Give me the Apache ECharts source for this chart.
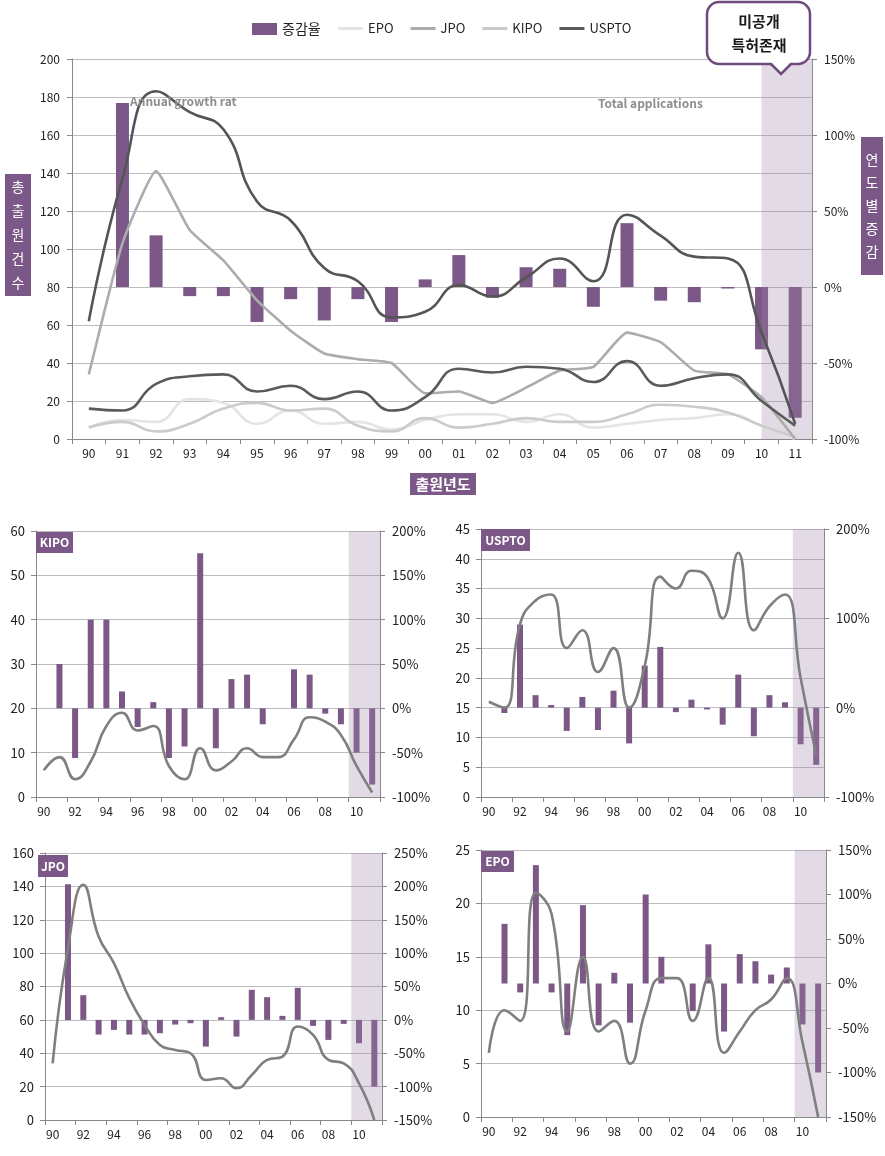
<!DOCTYPE html>
<html>
<head>
<meta charset="utf-8">
<script src="https://cdn.jsdelivr.net/npm/echarts@6/dist/echarts.min.js"></script>
<style>
html,body{margin:0;padding:0;background:#ffffff;}
#c{width:885px;height:1156px;}
</style>
</head>
<body>
<div id="c"></div>
<script>
// ---------------- data ----------------
const years = ['90','91','92','93','94','95','96','97','98','99','00','01','02','03','04','05','06','07','08','09','10','11'];

const totalApps   = [62,137,183,172,163,125,115,90,83,64,67,81,75,85,95,83,118,107,96,95,56,8];
const totalGrowth = [null,121,34,-6,-6,-23,-8,-22,-8,-23,5,21,-7,13,12,-13,42,-9,-10,-1,-41,-86];

const epoApps   = [6,10,9,21,19,8,15,8,9,5,10,13,13,9,13,6,8,10,11,13,7,0];
const jpoApps   = [34,103,141,110,94,73,57,45,42,40,24,25,19,27,36,38,56,51,36,34,22,0];
const kipoApps  = [6,9,4,8,16,19,15,16,7,4,11,6,8,11,9,9,13,18,17,14,7,1];
const usptoApps = [16,15,29,33,34,25,28,21,25,15,22,37,35,38,37,30,41,28,32,34,20,7];

const epoGrowth   = [null,67,-10,133,-10,-58,88,-47,12,-44,100,30,0,-31,44,-54,33,25,10,18,-46,-100];
const jpoGrowth   = [null,203,37,-22,-15,-22,-22,-20,-7,-5,-40,4,-25,45,34,6,48,-9,-30,-6,-35,-100];
const kipoGrowth  = [null,50,-56,100,100,19,-21,7,-56,-43,175,-45,33,38,-18,0,44,38,-6,-18,-50,-86];
const usptoGrowth = [null,-6,93,14,3,-26,12,-25,19,-40,47,68,-5,9,-2,-19,37,-32,14,6,-41,-64];

const barLegendName = '증감율';
const lineLegendNames = ['EPO','JPO','KIPO','USPTO'];
const unpublishedFrom = '10';

// ---------------- styles ----------------
const PURPLE = '#7b5887';
const FONT = "'Noto Sans CJK KR','Noto Sans',sans-serif";
const AXIS_COLOR = '#888888';
const GRID_COLOR = '#bdbdbd';
const LABEL_COLOR = '#222222';
const SUB_LINE = '#7f7f7f';
const SHADE = 'rgba(160,135,170,0.3)';

const chart = echarts.init(document.getElementById('c'), null, {renderer: 'canvas'});

function catAxis(gridIndex, every, margin, fontSize) {
  return {
    type: 'category', gridIndex: gridIndex, data: years, boundaryGap: true,
    axisLine: {show: true, lineStyle: {color: AXIS_COLOR, width: 1}},
    axisTick: {show: true, interval: every, length: 5, lineStyle: {color: AXIS_COLOR}},
    axisLabel: {interval: every, margin: margin, fontSize: fontSize, color: LABEL_COLOR, fontFamily: FONT},
    splitLine: {show: false}
  };
}
function valAxis(gridIndex, pos, min, max, interval, showSplit, pct, fontSize, margin) {
  return {
    type: 'value', gridIndex: gridIndex, position: pos, min: min, max: max, interval: interval,
    axisLine: {show: true, lineStyle: {color: AXIS_COLOR, width: 1}},
    axisTick: {show: true, length: 5, lineStyle: {color: AXIS_COLOR}},
    axisLabel: {fontSize: fontSize, color: LABEL_COLOR, fontFamily: FONT, margin: margin,
      formatter: pct ? '{value}%' : '{value}'},
    splitLine: {show: showSplit, lineStyle: {color: GRID_COLOR, width: 1}}
  };
}

function lineSeries(name, data, xi, yi, color, smooth, z) {
  return {
    name: name, type: 'line', xAxisIndex: xi, yAxisIndex: yi, data: data,
    smooth: smooth, symbol: 'none', showSymbol: false,
    lineStyle: {color: color, width: 2.6}, itemStyle: {color: color}, z: z || 5
  };
}
function barSeries(name, data, xi, yi, width) {
  return {
    name: name, type: 'bar', xAxisIndex: xi, yAxisIndex: yi, data: data,
    barWidth: width, itemStyle: {color: PURPLE}, z: 2
  };
}

const option = {
  animation: false,
  backgroundColor: '#ffffff',
  textStyle: {fontFamily: FONT},
  legend: [
    {
      left: 247, top: 17, itemWidth: 25, itemHeight: 12, itemGap: 10,
      icon: 'rect',
      textStyle: {fontSize: 14, color: LABEL_COLOR, fontFamily: FONT},
      data: [barLegendName]
    },
    {
      left: 333, top: 17, itemWidth: 25, itemHeight: 3, itemGap: 17,
      icon: 'rect',
      textStyle: {fontSize: 13, color: LABEL_COLOR, fontFamily: FONT},
      data: lineLegendNames
    }
  ],
  grid: [
    {left: 72, right: 73, top: 59, bottom: 717},
    {left: 36, right: 505, top: 531, bottom: 359},
    {left: 481, right: 61, top: 529, bottom: 359},
    {left: 45, right: 503, top: 853, bottom: 36},
    {left: 481, right: 59, top: 850, bottom: 39}
  ],
  xAxis: [
    catAxis(0, 0, 8, 12),
    catAxis(1, 1, 8, 12),
    catAxis(2, 1, 8, 12),
    catAxis(3, 1, 8, 12),
    catAxis(4, 1, 8, 12)
  ],
  yAxis: [
    valAxis(0, 'left', 0, 200, 20, true, false, 12, 12),
    valAxis(0, 'right', -100, 150, 50, false, true, 12, 12),
    valAxis(1, 'left', 0, 60, 10, true, false, 13, 11),
    valAxis(1, 'right', -100, 200, 50, false, true, 13, 12),
    valAxis(2, 'left', 0, 45, 5, true, false, 13, 11),
    valAxis(2, 'right', -100, 200, 100, false, true, 13, 12),
    valAxis(3, 'left', 0, 160, 20, true, false, 13, 11),
    valAxis(3, 'right', -150, 250, 50, false, true, 13, 12),
    valAxis(4, 'left', 0, 25, 5, true, false, 13, 11),
    valAxis(4, 'right', -150, 150, 50, false, true, 13, 12)
  ],
  series: [
    barSeries(barLegendName, totalGrowth, 0, 1, 13),
    lineSeries('EPO', epoApps, 0, 0, '#e4e4e4', 0.5, 5),
    lineSeries('KIPO', kipoApps, 0, 0, '#cbcbcb', 0.5, 5),
    lineSeries('JPO', jpoApps, 0, 0, '#acacac', 0.15, 5),
    lineSeries('USPTO', usptoApps, 0, 0, '#5a5a5a', 0.5, 5),
    lineSeries('합계', totalApps, 0, 0, '#555555', 0.5, 5),

    barSeries('KIPO 증감율', kipoGrowth, 1, 3, 6),
    lineSeries('KIPO 출원', kipoApps, 1, 2, SUB_LINE, 0.5, 5),
    barSeries('USPTO 증감율', usptoGrowth, 2, 5, 6),
    lineSeries('USPTO 출원', usptoApps, 2, 4, SUB_LINE, 0.5, 5),
    barSeries('JPO 증감율', jpoGrowth, 3, 7, 6),
    lineSeries('JPO 출원', jpoApps, 3, 6, SUB_LINE, 0.5, 5),
    barSeries('EPO 증감율', epoGrowth, 4, 9, 6),
    lineSeries('EPO 출원', epoApps, 4, 8, SUB_LINE, 0.5, 5)
  ]
};
chart.setOption(option);

// ---------- shaded "unpublished" regions, computed from the axes ----------
function shade(xi, yi, yMin, yMax, fromCenter) {
  const i10 = years.indexOf(unpublishedFrom);
  const c10 = chart.convertToPixel({xAxisIndex: xi}, i10);
  const c11 = chart.convertToPixel({xAxisIndex: xi}, i10 + 1);
  const band = c11 - c10;
  const x0 = fromCenter ? c10 : c10 - band / 2;
  const x1 = c11 + band / 2;
  const yTop = chart.convertToPixel({yAxisIndex: yi}, yMax);
  const yBot = chart.convertToPixel({yAxisIndex: yi}, yMin);
  return {type: 'rect', z: 3, silent: true,
    shape: {x: x0, y: yTop, width: x1 - x0, height: yBot - yTop},
    style: {fill: SHADE}};
}

function titleBox(x, y, w, h, text, fs, lh, bold) {
  return [
    {type: 'rect', z: 10, shape: {x: x, y: y, width: w, height: h}, style: {fill: PURPLE}},
    {type: 'text', z: 11, x: x + w / 2, y: y + h / 2,
      style: {text: text, fill: '#ffffff', font: (bold ? 'bold ' : '') + fs + 'px ' + FONT,
        align: 'center', verticalAlign: 'middle', lineHeight: lh}}
  ];
}

const g = [];
g.push(shade(0, 0, 0, 200, true));
g.push(shade(1, 2, 0, 60, false));
g.push(shade(2, 4, 0, 45, false));
g.push(shade(3, 6, 0, 160, false));
g.push(shade(4, 8, 0, 25, false));

g.push(...titleBox(5, 174, 26, 122, '총\n출\n원\n건\n수', 14, 24, false));
g.push(...titleBox(861, 137, 22, 138, '연\n도\n별\n증\n감', 14, 23, false));
g.push(...titleBox(410, 473, 66, 22, '출원년도', 15, 18, true));

g.push(...titleBox(36, 532, 37, 21, 'KIPO', 12, 14, true));
g.push(...titleBox(481, 529, 49, 22, 'USPTO', 12, 14, true));
g.push(...titleBox(38, 855, 30, 22, 'JPO', 12, 14, true));
g.push(...titleBox(481, 851, 33, 21, 'EPO', 12, 14, true));

// annotations
g.push({type: 'text', z: 8, x: 130, y: 101,
  style: {text: 'Annual growth rat', fill: '#8e8e8e', font: 'bold 12px ' + FONT, verticalAlign: 'middle'}});
g.push({type: 'text', z: 8, x: 598, y: 103,
  style: {text: 'Total applications', fill: '#8e8e8e', font: 'bold 12px ' + FONT, verticalAlign: 'middle'}});

// callout
g.push({type: 'rect', z: 20, shape: {x: 707, y: 2, width: 103, height: 62, r: 12},
  style: {fill: '#ffffff', stroke: '#6e4b7c', lineWidth: 2.5}});
g.push({type: 'polygon', z: 21, shape: {points: [[771, 62], [781, 74], [791, 62]]},
  style: {fill: '#ffffff'}});
g.push({type: 'polyline', z: 22, shape: {points: [[771, 64], [781, 74], [791, 64]]},
  style: {stroke: '#6e4b7c', lineWidth: 2.5, fill: null}});
g.push({type: 'text', z: 23, x: 759, y: 33,
  style: {text: '미공개\n특허존재', fill: '#1a1a1a', font: 'bold 15px ' + FONT,
    align: 'center', verticalAlign: 'middle', lineHeight: 24}});

chart.setOption({graphic: g});
</script>
</body>
</html>
